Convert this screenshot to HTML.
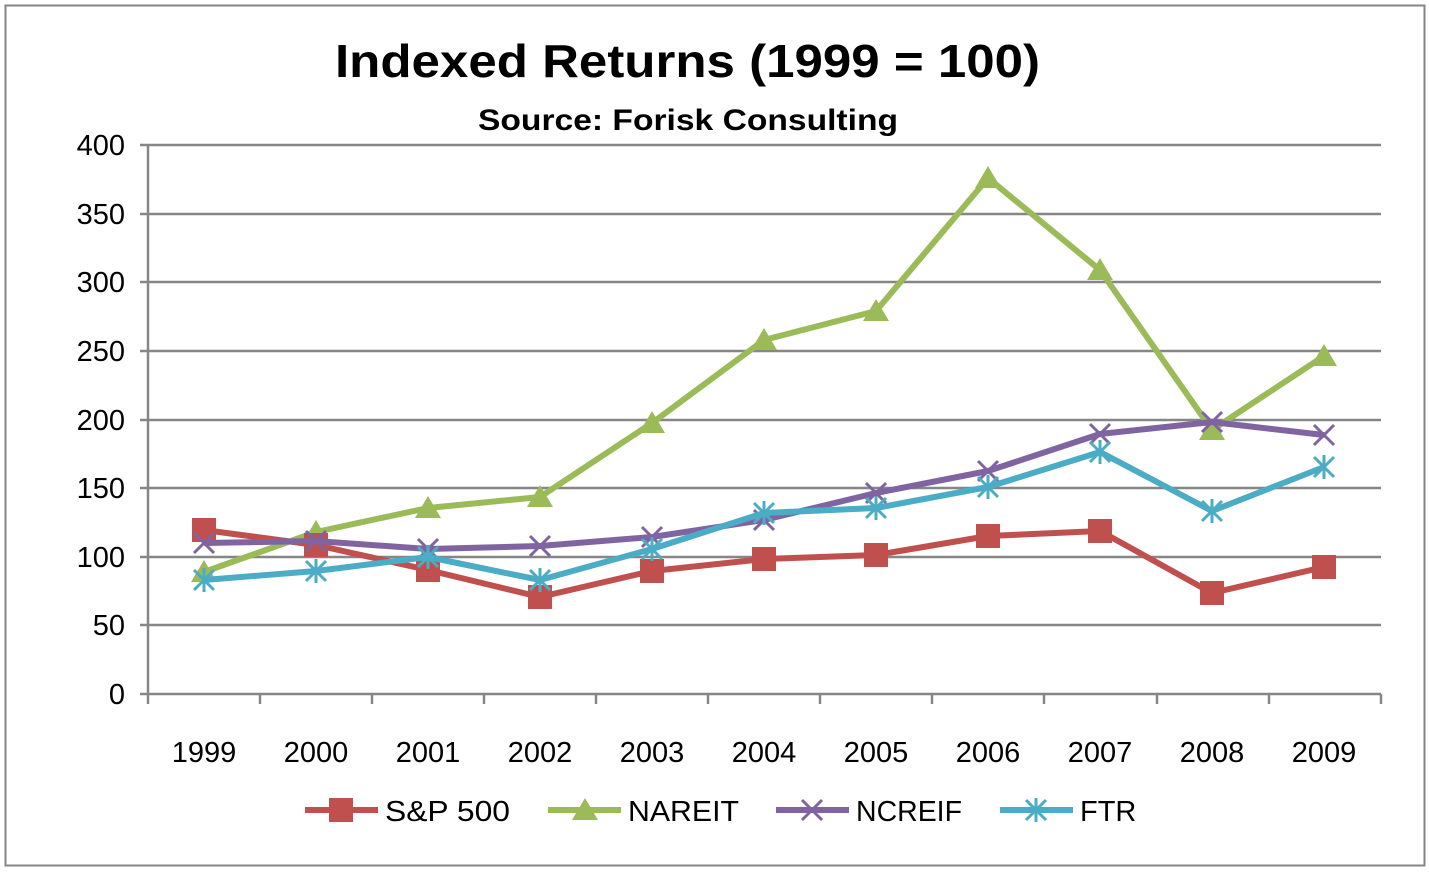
<!DOCTYPE html>
<html><head><meta charset="utf-8"><style>
html,body{margin:0;padding:0;background:#fff;}
svg{display:block;font-family:"Liberation Sans",sans-serif;}
</style></head><body>
<svg width="1429" height="873" viewBox="0 0 1429 873" xmlns="http://www.w3.org/2000/svg">
<rect x="0" y="0" width="1429" height="873" fill="#fff"/>
<rect x="5.5" y="5.5" width="1419" height="860" fill="none" stroke="#868686" stroke-width="2"/>
<text x="335" y="77" font-size="46" font-weight="bold" textLength="705" lengthAdjust="spacingAndGlyphs">Indexed Returns (1999 = 100)</text>
<text x="478" y="130" font-size="30" font-weight="bold" textLength="420" lengthAdjust="spacingAndGlyphs">Source: Forisk Consulting</text>
<g stroke="#868686" stroke-width="2.5">
<line x1="148" y1="145" x2="1381" y2="145"/>
<line x1="148" y1="214" x2="1381" y2="214"/>
<line x1="148" y1="282" x2="1381" y2="282"/>
<line x1="148" y1="351" x2="1381" y2="351"/>
<line x1="148" y1="420" x2="1381" y2="420"/>
<line x1="148" y1="488" x2="1381" y2="488"/>
<line x1="148" y1="557" x2="1381" y2="557"/>
<line x1="148" y1="625" x2="1381" y2="625"/>
<line x1="148" y1="694" x2="1381" y2="694"/>
<line x1="148" y1="145" x2="148" y2="704"/>
<line x1="140" y1="145" x2="148" y2="145"/><line x1="140" y1="214" x2="148" y2="214"/><line x1="140" y1="282" x2="148" y2="282"/><line x1="140" y1="351" x2="148" y2="351"/><line x1="140" y1="420" x2="148" y2="420"/><line x1="140" y1="488" x2="148" y2="488"/><line x1="140" y1="557" x2="148" y2="557"/><line x1="140" y1="625" x2="148" y2="625"/><line x1="140" y1="694" x2="148" y2="694"/>
<line x1="260" y1="694" x2="260" y2="704"/><line x1="372" y1="694" x2="372" y2="704"/><line x1="484" y1="694" x2="484" y2="704"/><line x1="596" y1="694" x2="596" y2="704"/><line x1="708" y1="694" x2="708" y2="704"/><line x1="820" y1="694" x2="820" y2="704"/><line x1="932" y1="694" x2="932" y2="704"/><line x1="1044" y1="694" x2="1044" y2="704"/><line x1="1157" y1="694" x2="1157" y2="704"/><line x1="1269" y1="694" x2="1269" y2="704"/><line x1="1381" y1="694" x2="1381" y2="704"/>
</g>
<g font-size="29" text-anchor="end">
<text x="125" y="155">400</text><text x="125" y="224">350</text><text x="125" y="292">300</text><text x="125" y="361">250</text><text x="125" y="430">200</text><text x="125" y="498">150</text><text x="125" y="567">100</text><text x="125" y="635">50</text><text x="125" y="704">0</text>
</g>
<g font-size="29" text-anchor="middle">
<text x="204" y="762">1999</text><text x="316" y="762">2000</text><text x="428" y="762">2001</text><text x="540" y="762">2002</text><text x="652" y="762">2003</text><text x="764" y="762">2004</text><text x="876" y="762">2005</text><text x="988" y="762">2006</text><text x="1100" y="762">2007</text><text x="1212" y="762">2008</text><text x="1324" y="762">2009</text>
</g>
<polyline fill="none" stroke="#9BBB59" stroke-width="6" stroke-linejoin="round" points="204,572 316,532 428,508 540,497 652,423 764,340 876,311 988,178 1100,270 1212,430 1324,356"/>
<g fill="#9BBB59">
<polygon points="204,560 217,582 191,582"/><polygon points="316,520 329,542 303,542"/><polygon points="428,496 441,518 415,518"/><polygon points="540,485 553,507 527,507"/><polygon points="652,411 665,433 639,433"/><polygon points="764,328 777,350 751,350"/><polygon points="876,299 889,321 863,321"/><polygon points="988,166 1001,188 975,188"/><polygon points="1100,258 1113,280 1087,280"/><polygon points="1212,418 1225,440 1199,440"/><polygon points="1324,344 1337,366 1311,366"/>
</g>
<polyline fill="none" stroke="#C0504D" stroke-width="6" stroke-linejoin="round" points="204,530 316,545 428,570 540,597 652,571 764,559 876,555 988,536 1100,531 1212,593 1324,567"/>
<g fill="#C0504D">
<rect x="192" y="518" width="24" height="24"/><rect x="304" y="533" width="24" height="24"/><rect x="416" y="558" width="24" height="24"/><rect x="528" y="585" width="24" height="24"/><rect x="640" y="559" width="24" height="24"/><rect x="752" y="547" width="24" height="24"/><rect x="864" y="543" width="24" height="24"/><rect x="976" y="524" width="24" height="24"/><rect x="1088" y="519" width="24" height="24"/><rect x="1200" y="581" width="24" height="24"/><rect x="1312" y="555" width="24" height="24"/>
</g>
<polyline fill="none" stroke="#8064A2" stroke-width="6" stroke-linejoin="round" points="204,543 316,541 428,549 540,546 652,537 764,520 876,493 988,471 1100,434 1212,422 1324,435"/>
<g stroke="#8064A2" stroke-width="3">
<path d="M194,533l20,20M214,533l-20,20M306,531l20,20M326,531l-20,20M418,539l20,20M438,539l-20,20M530,536l20,20M550,536l-20,20M642,527l20,20M662,527l-20,20M754,510l20,20M774,510l-20,20M866,483l20,20M886,483l-20,20M978,461l20,20M998,461l-20,20M1090,424l20,20M1110,424l-20,20M1202,412l20,20M1222,412l-20,20M1314,425l20,20M1334,425l-20,20"/>
</g>
<polyline fill="none" stroke="#4BACC6" stroke-width="6" stroke-linejoin="round" points="204,580 316,571 428,557 540,580 652,549 764,513 876,508 988,487 1100,452 1212,511 1324,467"/>
<g stroke="#4BACC6" stroke-width="3">
<path d="M194,570l20,20M214,570l-20,20M204,568v24M306,561l20,20M326,561l-20,20M316,559v24M418,547l20,20M438,547l-20,20M428,545v24M530,570l20,20M550,570l-20,20M540,568v24M642,539l20,20M662,539l-20,20M652,537v24M754,503l20,20M774,503l-20,20M764,501v24M866,498l20,20M886,498l-20,20M876,496v24M978,477l20,20M998,477l-20,20M988,475v24M1090,442l20,20M1110,442l-20,20M1100,440v24M1202,501l20,20M1222,501l-20,20M1212,499v24M1314,457l20,20M1334,457l-20,20M1324,455v24"/>
</g>
<line x1="305" y1="810" x2="378" y2="810" stroke="#C0504D" stroke-width="6"/>
<rect x="329" y="798" width="24" height="24" fill="#C0504D"/>
<text x="385" y="821" font-size="29" textLength="125" lengthAdjust="spacingAndGlyphs">S&amp;P 500</text>
<line x1="548" y1="810" x2="621" y2="810" stroke="#9BBB59" stroke-width="6"/>
<polygon points="585,798 598,820 572,820" fill="#9BBB59"/>
<text x="628" y="821" font-size="29" textLength="111" lengthAdjust="spacingAndGlyphs">NAREIT</text>
<line x1="776" y1="810" x2="849" y2="810" stroke="#8064A2" stroke-width="6"/>
<path d="M802,800l20,20M822,800l-20,20" stroke="#8064A2" stroke-width="3"/>
<text x="856" y="821" font-size="29" textLength="106" lengthAdjust="spacingAndGlyphs">NCREIF</text>
<line x1="1000" y1="810" x2="1073" y2="810" stroke="#4BACC6" stroke-width="6"/>
<path d="M1026,800l20,20M1046,800l-20,20M1036,798v24" stroke="#4BACC6" stroke-width="3"/>
<text x="1080" y="821" font-size="29">FTR</text>
</svg>
</body></html>
